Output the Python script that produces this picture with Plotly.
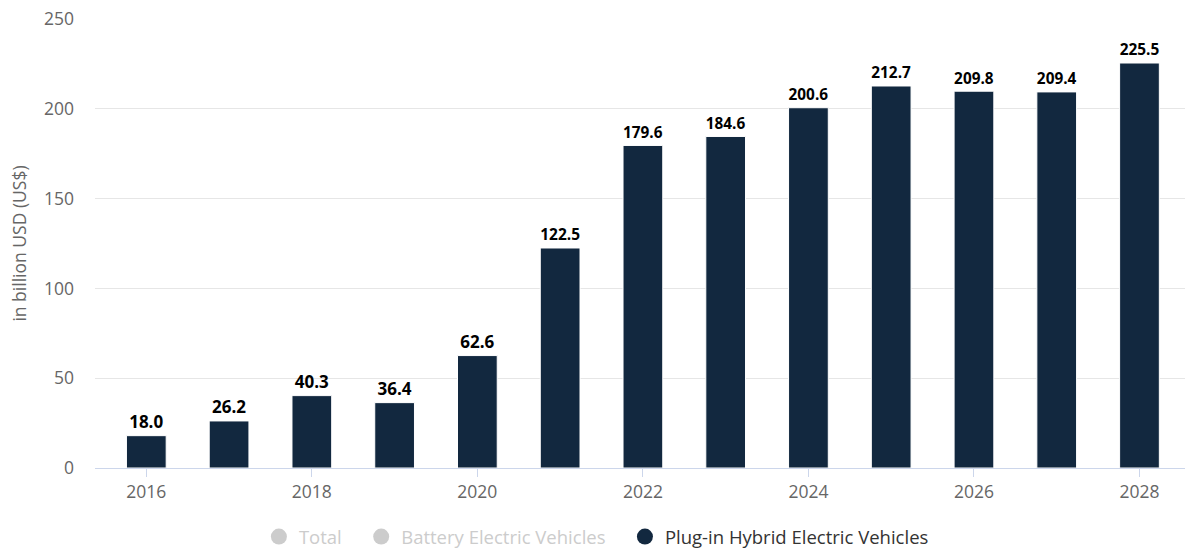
import plotly.graph_objects as go

years = list(range(2016, 2029))
phev_revenue = [18.0, 26.2, 40.3, 36.4, 62.6, 122.5, 179.6, 184.6, 200.6, 212.7, 209.8, 209.4, 225.5]
legend_names = ["Total", "Battery Electric Vehicles", "Plug-in Hybrid Electric Vehicles"]
legend_active = [False, False, True]
y_ticks = [0, 50, 100, 150, 200, 250]
x_ticks = [2016, 2018, 2020, 2022, 2024, 2026, 2028]

bar_color = "#12283f"
muted = "#cccccc"
font_family = "Open Sans, DejaVu Sans, sans-serif"

fig = go.Figure()
fig.add_trace(go.Bar(
    x=years,
    y=phev_revenue,
    width=0.48,
    marker=dict(color=bar_color, line=dict(color="#ffffff", width=1)),
    text=[f"{v:.1f}" for v in phev_revenue],
    textposition="outside",
    textfont=dict(family=font_family, size=17, color="#000000", weight="bold"),
    cliponaxis=False,
    showlegend=False,
))

# legend entries as circle markers; inactive series are greyed out
pad = "\u00a0" * 3
for name, active in zip(legend_names, legend_active):
    color = bar_color if active else muted
    fig.add_trace(go.Scatter(
        x=[None], y=[None], mode="markers",
        marker=dict(symbol="circle", size=18, color=color),
        name=f"<span style='color:{'#333333' if active else muted}'>{name}</span>" + ("" if active else pad),
    ))

fig.update_layout(
    width=1193, height=548,
    margin=dict(l=95, r=8, t=19, b=80, autoexpand=False),
    paper_bgcolor="#ffffff",
    plot_bgcolor="#ffffff",
    font=dict(family=font_family, color="#666666", size=17),
    legend=dict(
        orientation="h", x=0.46, xanchor="center",
        yref="container", y=0.02, yanchor="middle",
        font=dict(size=18.5), itemwidth=30, traceorder="normal",
        itemclick=False, itemdoubleclick=False,
    ),
    xaxis=dict(
        range=[2015.38, 2028.55],
        tickmode="array", tickvals=x_ticks,
        showgrid=False, showline=True, linecolor="#ccd6eb", linewidth=1,
        ticks="outside", ticklen=8, tickcolor="#ccd6eb",
        tickfont=dict(size=17.5, color="#666666"),
        zeroline=False,
    ),
    yaxis=dict(
        range=[0, 250],
        tickmode="array", tickvals=y_ticks,
        showgrid=True, gridcolor="#e6e6e6", gridwidth=1,
        zeroline=False, showline=False,
        tickfont=dict(size=17.5, color="#666666"),
        ticklabelstandoff=20,
        title=dict(text="in billion USD (US$)", font=dict(size=17.5, color="#666666"), standoff=12),
    ),
)

fig.write_html("out.html")
